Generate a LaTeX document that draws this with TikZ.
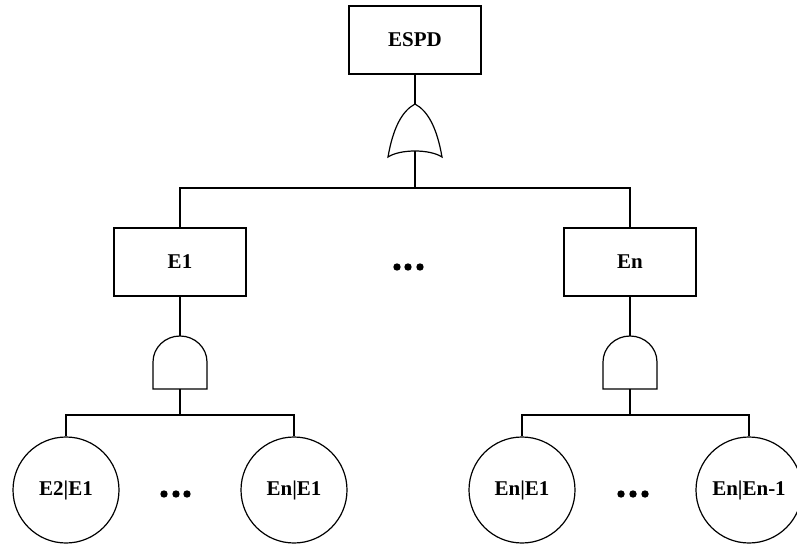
\documentclass[tikz,border=0pt]{standalone}
\usepackage{fontspec}
\setmainfont{Liberation Serif}

\begin{document}
\begin{tikzpicture}[x=1pt,y=-1pt,line width=1.2pt]
% styles des evenements et des portes
\tikzset{event/.style={draw,rectangle,minimum width=132pt,minimum height=68pt,
    font=\fontsize{21}{25}\selectfont\bfseries},
  basic/.style={draw,circle,minimum size=106pt,inner sep=0pt,
    font=\fontsize{21}{25}\selectfont\bfseries},
  orgate/.pic={\draw (-27,53) .. controls (-22,24) and (-13,7) .. (0,0)
      .. controls (13,7) and (22,24) .. (27,53)
      .. controls (15,45) and (-15,45) .. (-27,53) -- cycle;},
  andgate/.pic={\draw (-27,0) -- (-27,-27) arc[start angle=180,end angle=360,x radius=27,y radius=26]
      -- (27,0) -- cycle;}}
\useasboundingbox (0,0) rectangle (797,545);
%evenement de tete
\node[event] (espd) at (415,40) {ESPD};
\coordinate (orin) at (415,104);
\coordinate (orout) at (415,151);
\pic at (orin) {orgate};
\draw (espd) -- (orin);
\coordinate (bus0) at (415,188);
%evenements intermediaires
\node[event] (e1) at (180,262) {E1};
\node[event] (en) at (630,262) {En};
\draw (orout) -- (bus0) -| (e1.north);
\draw (bus0) -| (en.north);
\foreach \x in {397,408,420} \fill (\x,267) circle (3.7);
%porte ET de gauche
\coordinate (andain) at (180,336);
\coordinate (andaout) at (180,389);
\pic at (andaout) {andgate};
\draw (e1) -- (andain);
\coordinate (busa) at (180,415);
\node[basic] (e2e1) at (66,490) {E2|E1};
\node[basic] (ene1) at (294,490) {En|E1};
\draw (andaout) -- (busa) -| (e2e1.north);
\draw (busa) -| (ene1.north);
\foreach \x in {164,176,187} \fill (\x,494) circle (3.7);
%porte ET de droite
\coordinate (andbin) at (630,336);
\coordinate (andbout) at (630,389);
\pic at (andbout) {andgate};
\draw (en) -- (andbin);
\coordinate (busb) at (630,415);
\node[basic] (ene1b) at (522,490) {En|E1};
\node[basic] (enen) at (749,490) {En|En-1};
\draw (andbout) -- (busb) -| (ene1b.north);
\draw (busb) -| (enen.north);
\foreach \x in {621,633,645} \fill (\x,494) circle (3.7);
\end{tikzpicture}
\end{document}
